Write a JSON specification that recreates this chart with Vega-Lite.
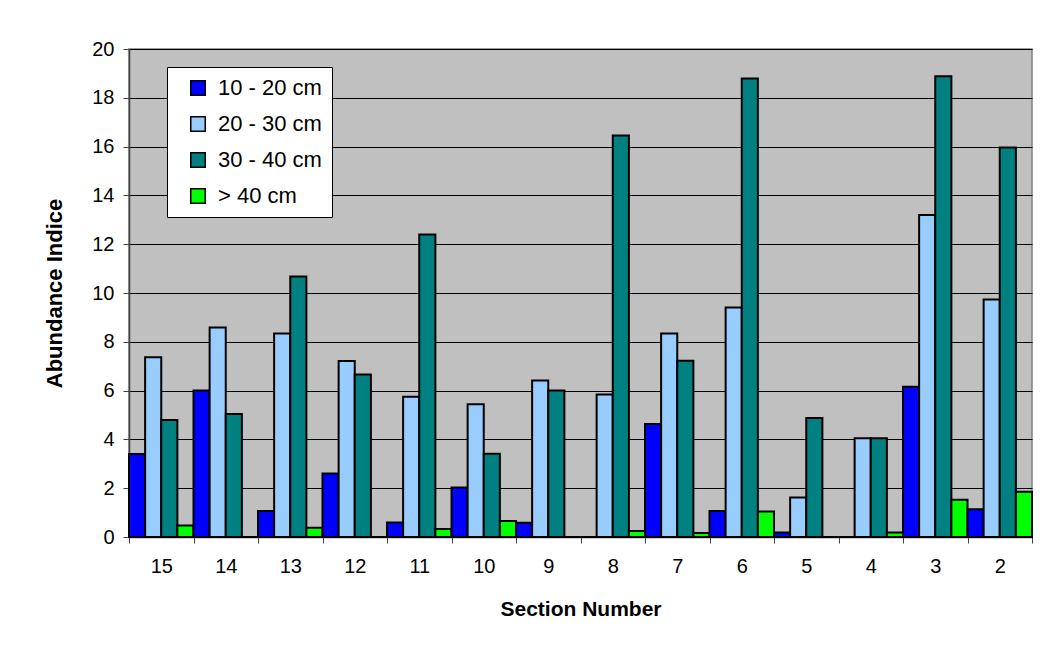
{
  "$schema": "https://vega.github.io/schema/vega-lite/v6.json",
  "width": 903,
  "height": 488,
  "autosize": "none",
  "padding": {"left": 129, "top": 49, "right": 23, "bottom": 109},
  "background": "white",
  "data": {
    "values": [
      {"section": "15", "size": "10 - 20 cm", "v": 3.40}, {"section": "15", "size": "20 - 30 cm", "v": 7.37}, {"section": "15", "size": "30 - 40 cm", "v": 4.79}, {"section": "15", "size": "> 40 cm", "v": 0.47},
      {"section": "14", "size": "10 - 20 cm", "v": 6.00}, {"section": "14", "size": "20 - 30 cm", "v": 8.59}, {"section": "14", "size": "30 - 40 cm", "v": 5.04}, {"section": "14", "size": "> 40 cm", "v": 0},
      {"section": "13", "size": "10 - 20 cm", "v": 1.07}, {"section": "13", "size": "20 - 30 cm", "v": 8.34}, {"section": "13", "size": "30 - 40 cm", "v": 10.68}, {"section": "13", "size": "> 40 cm", "v": 0.38},
      {"section": "12", "size": "10 - 20 cm", "v": 2.60}, {"section": "12", "size": "20 - 30 cm", "v": 7.21}, {"section": "12", "size": "30 - 40 cm", "v": 6.66}, {"section": "12", "size": "> 40 cm", "v": 0},
      {"section": "11", "size": "10 - 20 cm", "v": 0.59}, {"section": "11", "size": "20 - 30 cm", "v": 5.75}, {"section": "11", "size": "30 - 40 cm", "v": 12.40}, {"section": "11", "size": "> 40 cm", "v": 0.33},
      {"section": "10", "size": "10 - 20 cm", "v": 2.03}, {"section": "10", "size": "20 - 30 cm", "v": 5.44}, {"section": "10", "size": "30 - 40 cm", "v": 3.41}, {"section": "10", "size": "> 40 cm", "v": 0.66},
      {"section": "9", "size": "10 - 20 cm", "v": 0.58}, {"section": "9", "size": "20 - 30 cm", "v": 6.41}, {"section": "9", "size": "30 - 40 cm", "v": 6.00}, {"section": "9", "size": "> 40 cm", "v": 0},
      {"section": "8", "size": "10 - 20 cm", "v": 0}, {"section": "8", "size": "20 - 30 cm", "v": 5.84}, {"section": "8", "size": "30 - 40 cm", "v": 16.45}, {"section": "8", "size": "> 40 cm", "v": 0.25},
      {"section": "7", "size": "10 - 20 cm", "v": 4.63}, {"section": "7", "size": "20 - 30 cm", "v": 8.34}, {"section": "7", "size": "30 - 40 cm", "v": 7.22}, {"section": "7", "size": "> 40 cm", "v": 0.16},
      {"section": "6", "size": "10 - 20 cm", "v": 1.07}, {"section": "6", "size": "20 - 30 cm", "v": 9.41}, {"section": "6", "size": "30 - 40 cm", "v": 18.79}, {"section": "6", "size": "> 40 cm", "v": 1.05},
      {"section": "5", "size": "10 - 20 cm", "v": 0.18}, {"section": "5", "size": "20 - 30 cm", "v": 1.62}, {"section": "5", "size": "30 - 40 cm", "v": 4.88}, {"section": "5", "size": "> 40 cm", "v": 0},
      {"section": "4", "size": "10 - 20 cm", "v": 0}, {"section": "4", "size": "20 - 30 cm", "v": 4.05}, {"section": "4", "size": "30 - 40 cm", "v": 4.05}, {"section": "4", "size": "> 40 cm", "v": 0.18},
      {"section": "3", "size": "10 - 20 cm", "v": 6.16}, {"section": "3", "size": "20 - 30 cm", "v": 13.20}, {"section": "3", "size": "30 - 40 cm", "v": 18.88}, {"section": "3", "size": "> 40 cm", "v": 1.53},
      {"section": "2", "size": "10 - 20 cm", "v": 1.14}, {"section": "2", "size": "20 - 30 cm", "v": 9.73}, {"section": "2", "size": "30 - 40 cm", "v": 15.96}, {"section": "2", "size": "> 40 cm", "v": 1.85}
    ]
  },
  "mark": {"type": "bar", "stroke": "black", "strokeWidth": 2},
  "encoding": {
    "x": {
      "field": "section", "type": "nominal", "sort": null,
      "scale": {"paddingInner": 0, "paddingOuter": 0},
      "axis": {
        "title": "Section Number", "labelAngle": 0, "tickBand": "extent",
        "labelFont": "Liberation Sans", "labelFontSize": 20, "labelColor": "black", "labelPadding": 13,
        "titleFont": "Liberation Sans", "titleFontSize": 21, "titleFontWeight": "bold", "titleColor": "black", "titlePadding": 22,
        "domainColor": "#404040", "domainWidth": 1.5, "tickColor": "#404040", "tickSize": 6, "grid": false
      }
    },
    "xOffset": {
      "field": "size", "type": "nominal",
      "sort": ["10 - 20 cm", "20 - 30 cm", "30 - 40 cm", "> 40 cm"],
      "scale": {"paddingInner": 0, "paddingOuter": 0}
    },
    "y": {
      "field": "v", "type": "quantitative",
      "scale": {"domain": [0, 20], "nice": false},
      "axis": {
        "title": "Abundance Indice", "values": [0, 2, 4, 6, 8, 10, 12, 14, 16, 18, 20],
        "labelFont": "Liberation Sans", "labelFontSize": 20, "labelColor": "black", "labelPadding": 9,
        "titleFont": "Liberation Sans", "titleFontSize": 22, "titleFontWeight": "bold", "titleColor": "black", "titlePadding": 25,
        "domainColor": "#404040", "domainWidth": 1.5, "tickColor": "#404040", "tickSize": 6,
        "grid": true, "gridColor": "black", "gridWidth": 1, "gridOpacity": 1
      }
    },
    "color": {
      "field": "size", "type": "nominal",
      "sort": ["10 - 20 cm", "20 - 30 cm", "30 - 40 cm", "> 40 cm"],
      "scale": {
        "domain": ["10 - 20 cm", "20 - 30 cm", "30 - 40 cm", "> 40 cm"],
        "range": ["#0000FF", "#99CCFF", "#008080", "#00FF00"]
      },
      "legend": {
        "title": null, "orient": "none", "legendX": 38, "legendY": 18,
        "symbolType": "square", "symbolSize": 210, "symbolStrokeColor": "black", "symbolStrokeWidth": 1.5, "symbolOffset": 10,
        "labelFont": "Liberation Sans", "labelFontSize": 22, "labelColor": "black", "labelOffset": 9,
        "rowPadding": 14, "padding": 10,
        "fillColor": "white", "strokeColor": "black"
      }
    }
  },
  "config": {
    "view": {"fill": "#C0C0C0", "stroke": "#808080", "strokeWidth": 1.5}
  }
}
